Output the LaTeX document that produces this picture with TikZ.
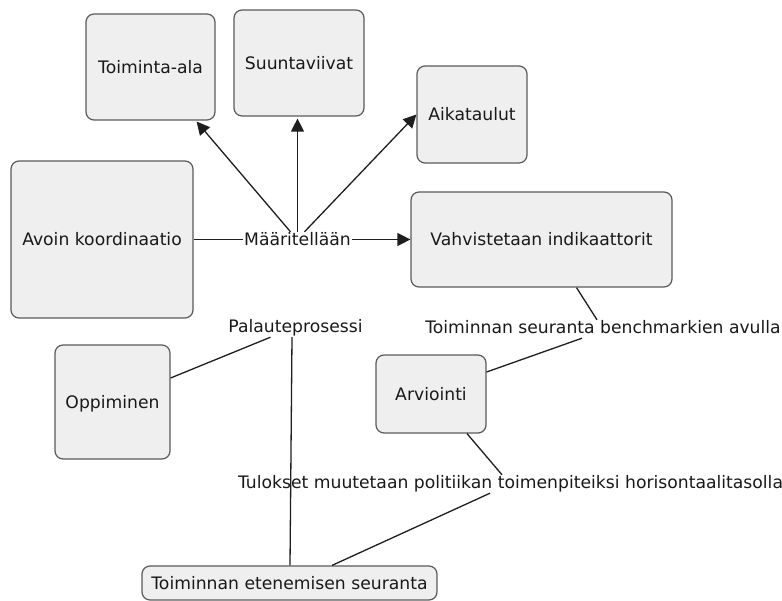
\documentclass[tikz,border=0pt]{standalone}
\usepackage{fontspec}
\setmainfont{DejaVu Sans}
\usetikzlibrary{arrows.meta}
\definecolor{boxfill}{HTML}{EFEFEF}
\definecolor{boxline}{HTML}{5A5A5A}
\definecolor{connline}{HTML}{1E1E1E}
\tikzset{
  lbl/.style={font=\fontsize{17.2bp}{20bp}\selectfont, inner sep=1bp, text height=12bp, text depth=4bp, text=black!90},
  box/.style={draw=boxline, fill=boxfill, line width=1.2bp, rounded corners=8bp, inner sep=0pt,
              font=\fontsize{17.2bp}{20bp}\selectfont, text height=12.5bp, text depth=0pt, text=black!90},
  conn/.style={draw=connline, line width=1.3bp},
  arr/.style={conn, -{Triangle[length=13bp,width=13bp]}}
}
\begin{document}
\begin{tikzpicture}[x=1bp,y=-1bp]
\useasboundingbox (0,0) rectangle (782,601);
% boxes
\node[box, minimum width=129bp, minimum height=106bp] (toim) at (150.5,67) {Toiminta-ala};
\node[box, minimum width=130bp, minimum height=106bp] (suun) at (299,63) {Suuntaviivat};
\node[box, minimum width=110bp, minimum height=97bp] (aika) at (472,114.5) {Aikataulut};
\node[box, minimum width=182bp, minimum height=157bp] (avoin) at (102,239.5) {Avoin koordinaatio};
\node[box, minimum width=261bp, minimum height=95bp] (vahv) at (541.5,239.5) {Vahvistetaan indikaattorit};
\node[box, minimum width=115bp, minimum height=114bp] (oppi) at (112.5,402) {Oppiminen};
\node[box, minimum width=110bp, minimum height=78bp] (arvi) at (431,394) {Arviointi};
\node[box, minimum width=295bp, minimum height=34bp] (teta) at (289.5,583) {Toiminnan etenemisen seuranta};
% labels
\node[lbl] (maar) at (297.5,241) {Määritellään};
\node[lbl] (palaute) at (295.5,328) {Palauteprosessi};
\node[lbl] (toimsea) at (603,329) {Toiminnan seuranta benchmarkien avulla};
\node[lbl] (tulokset) at (510.5,484) {Tulokset muutetaan politiikan toimenpiteiksi horisontaalitasolla};
% connectors
\draw[conn] (avoin.east) -- (avoin.east -| maar.west);
\draw[arr] (maar.east |- vahv.west) -- (vahv.west);
\draw[arr] ([xshift=-7bp]maar.north) -- ([xshift=-19bp,yshift=-1bp]toim.south east);
\draw[arr] (maar.north) -- ([yshift=-2bp]maar.north |- suun.south);
\draw[arr] ([xshift=7bp]maar.north) -- (aika.west);
\draw[conn] ([xshift=35bp]vahv.south) -- ([xshift=-6bp]toimsea.north);
\draw[conn] ([xshift=-21bp]toimsea.south) -- ([yshift=22bp]arvi.east);
\draw[conn] ([xshift=-25bp]palaute.south) -- ([yshift=24bp]oppi.east);
\draw[conn] ([xshift=-3.5bp]palaute.south) -- ([xshift=0.5bp]teta.north);
\draw[conn] ([xshift=36bp]arvi.south) -- ([xshift=-8.5bp]tulokset.north);
\draw[conn] ([xshift=-20.5bp]tulokset.south) -- ([xshift=42.5bp]teta.north);
\end{tikzpicture}
\end{document}
